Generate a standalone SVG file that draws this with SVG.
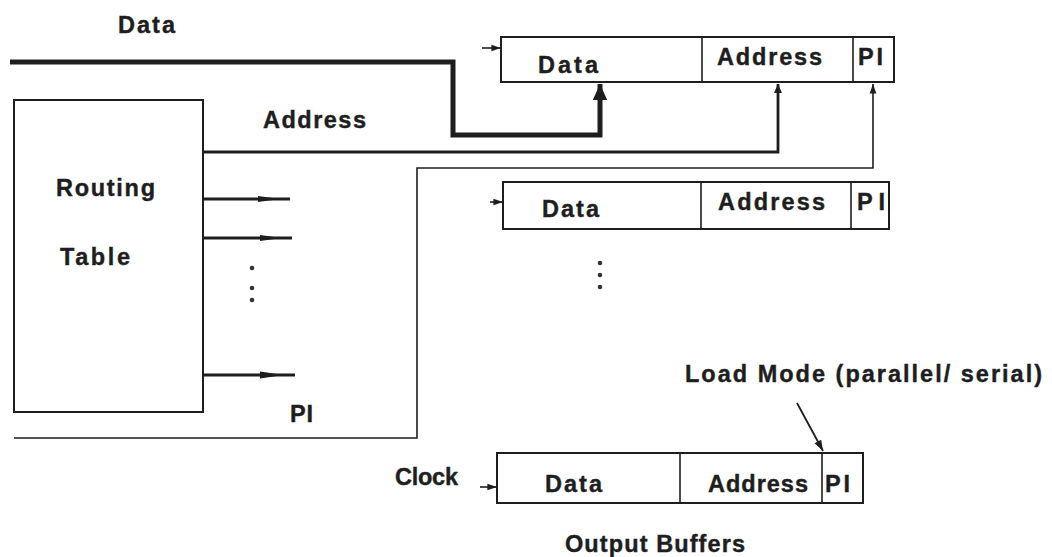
<svg xmlns="http://www.w3.org/2000/svg" width="1052" height="557" viewBox="0 0 1052 557">
  <style>
    .lbl { font-family: "Liberation Sans", Arial, sans-serif; font-weight: bold; font-size: 23.5px; fill: #1e1e1e; stroke: #1e1e1e; stroke-width: 0.4px; }
    .box { fill: #ffffff; stroke: #1e1e1e; stroke-width: 2; }
    .div { stroke: #1e1e1e; stroke-width: 1.6; }
    .wire { fill: none; stroke: #1e1e1e; stroke-linejoin: miter; }
    .dot { fill: #333333; }
  </style>
  <defs>
    <marker id="head" viewBox="0 0 10 10" refX="10" refY="5" markerWidth="4.5" markerHeight="3.2" markerUnits="strokeWidth" orient="auto">
      <path d="M0,0.5 L10,5 L0,9.5 Z" fill="#1e1e1e"/>
    </marker>
    <marker id="headThin" viewBox="0 0 10 10" refX="10" refY="5" markerWidth="8" markerHeight="6" markerUnits="strokeWidth" orient="auto">
      <path d="M0,1.5 L10,5 L0,8.5 Z" fill="#1e1e1e"/>
    </marker>
  </defs>
  <rect width="1052" height="557" fill="#ffffff"/>

  <!-- connectors -->
  <g id="connectors">
    <!-- data bus into the first buffer -->
    <polyline class="wire" stroke-width="5" points="10,62 453,62 453,135 600,135 600,84" marker-end="url(#head)"/>
    <!-- address from routing table -->
    <polyline class="wire" stroke-width="2.8" points="203,152 778,152 778,84" marker-end="url(#head)"/>
    <!-- PI line -->
    <polyline class="wire" stroke-width="1.6" points="14,438 417,438 417,168 873,168 873,84" marker-end="url(#headThin)"/>
    <!-- routing table outputs -->
    <line class="wire" stroke-width="2.8" x1="203" y1="199" x2="290" y2="199"/>
    <line class="wire" stroke-width="2.8" x1="203" y1="238" x2="292" y2="238"/>
    <line class="wire" stroke-width="2.8" x1="203" y1="375" x2="295" y2="375"/>
    <path d="M258,196 L280,199 L258,202 Z" fill="#1e1e1e"/>
    <path d="M260,235 L282,238 L260,241 Z" fill="#1e1e1e"/>
    <path d="M260,371.5 L284,375 L260,378.5 Z" fill="#1e1e1e"/>
    <!-- clock inputs -->
    <line class="wire" stroke-width="1.6" x1="482" y1="48" x2="501" y2="48" marker-end="url(#headThin)"/>
    <line class="wire" stroke-width="1.6" x1="490" y1="202" x2="503" y2="202" marker-end="url(#headThin)"/>
    <line class="wire" stroke-width="1.6" x1="480" y1="487" x2="497" y2="487" marker-end="url(#headThin)"/>
    <!-- load mode pointer -->
    <line class="wire" stroke-width="1.8" x1="797" y1="403" x2="823" y2="451" marker-end="url(#headThin)"/>
  </g>

  <!-- routing table -->
  <g id="routing-table">
    <rect class="box" x="14" y="100" width="189" height="312"/>
    <text class="lbl" x="56" y="196" textLength="99">Routing</text>
    <text class="lbl" x="60" y="265" textLength="70">Table</text>
    <circle class="dot" cx="252" cy="268" r="2.3"/>
    <circle class="dot" cx="252" cy="288" r="2.3"/>
    <circle class="dot" cx="252" cy="300" r="2.3"/>
  </g>

  <!-- free labels -->
  <g id="labels">
    <text class="lbl" x="118" y="33" textLength="57">Data</text>
    <text class="lbl" x="263" y="128" textLength="103">Address</text>
    <text class="lbl" x="290" y="422" textLength="23">PI</text>
    <text class="lbl" x="395" y="485" textLength="63">Clock</text>
    <text class="lbl" x="685" y="382" textLength="357">Load Mode (parallel/ serial)</text>
    <text class="lbl" x="565" y="552" textLength="180">Output Buffers</text>
  </g>

  <!-- output buffer 1 -->
  <g id="buffer-1">
    <rect class="box" x="501" y="37" width="393" height="45"/>
    <line class="div" x1="702" y1="37" x2="702" y2="82"/>
    <line class="div" x1="853" y1="37" x2="853" y2="82"/>
    <text class="lbl" x="538" y="73" textLength="60">Data</text>
    <text class="lbl" x="717" y="65" textLength="105">Address</text>
    <text class="lbl" x="858" y="65" textLength="25">PI</text>
  </g>

  <!-- output buffer 2 -->
  <g id="buffer-2">
    <rect class="box" x="503" y="182" width="386" height="47"/>
    <line class="div" x1="701" y1="182" x2="701" y2="229"/>
    <line class="div" x1="851" y1="182" x2="851" y2="229"/>
    <text class="lbl" x="542" y="217" textLength="57">Data</text>
    <text class="lbl" x="718" y="210" textLength="107">Address</text>
    <text class="lbl" x="857" y="210" textLength="28">PI</text>
    <circle class="dot" cx="600" cy="263" r="2.3"/>
    <circle class="dot" cx="600" cy="275" r="2.3"/>
    <circle class="dot" cx="600" cy="287" r="2.3"/>
  </g>

  <!-- output buffer 3 -->
  <g id="buffer-3">
    <rect class="box" x="497" y="453" width="366" height="50"/>
    <line class="div" x1="680" y1="453" x2="680" y2="503"/>
    <line class="div" x1="822" y1="453" x2="822" y2="503"/>
    <text class="lbl" x="545" y="492" textLength="57">Data</text>
    <text class="lbl" x="708" y="492" textLength="100">Address</text>
    <text class="lbl" x="825" y="492" textLength="25">PI</text>
  </g>
</svg>
